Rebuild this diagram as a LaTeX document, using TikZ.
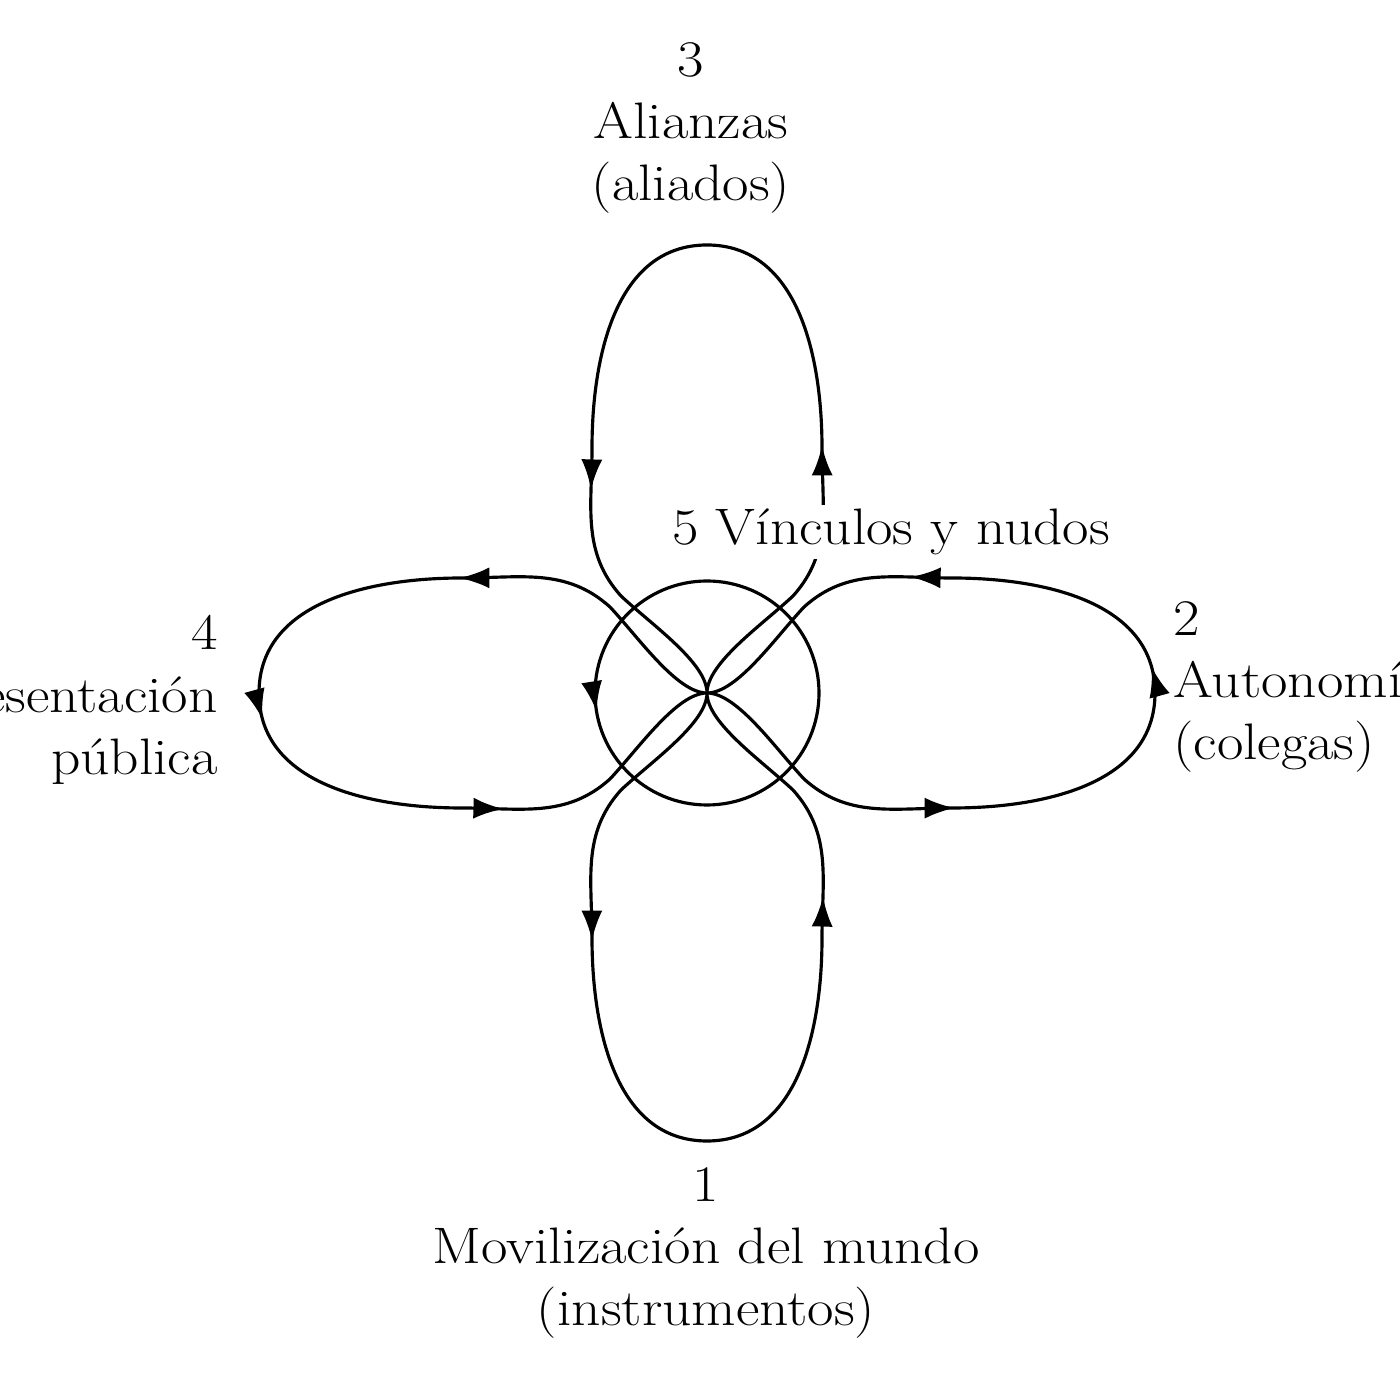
\documentclass[tikz,border=0pt]{standalone}
\usepackage{fontspec}
\setmainfont{Latin Modern Roman}[FakeStretch=1.12]
\usetikzlibrary{arrows.meta,decorations.markings}

\begin{document}
\begin{tikzpicture}[line cap=round,line join=round,x=1cm,y=1cm,
  every node/.style={font=\fontsize{14.6}{17.7}\selectfont},
  arrowat/.style={postaction={decorate,decoration={markings,
      mark=at position #1 with {\arrow{Latex[length=8.5pt,width=6pt]}}}}},
  petal/.style={line width=0.9pt,arrowat=0.265,arrowat=0.775},
  longpetal/.style={petal,arrowat=0.524}]
  \useasboundingbox (0,0) rectangle (14,14);
  \coordinate (c) at (7.07,7.07);
  % the four loops, all run counterclockwise
  \foreach \a/\s in {0/petal,90/longpetal,180/petal,270/longpetal}{
    \begin{scope}[shift={(c)},rotate=\a]
      \draw[\s] (0,0) .. controls (0,0.3) and (0.55,0.68) .. (0.86,0.97)
        to[out=48,in=-90] (1.15,2.45) to[out=90,in=0] (0,4.48)
        to[out=180,in=90] (-1.15,2.45) to[out=-90,in=132] (-0.86,0.97)
        .. controls (-0.55,0.68) and (0,0.3) .. (0,0);
    \end{scope}
  }
  \draw[line width=0.9pt,arrowat=0.526] (c) circle (1.12);
  \node[align=center] (alianzas) at (6.91,12.72) {3\\Alianzas\\(aliados)};
  \node[align=center] (movil) at (7.06,1.47) {1\\Movilización del mundo\\(instrumentos)};
  \node[align=left,anchor=west] (auton) at (11.61,7.13) {2\\Autonomía\\(colegas)};
  \node[align=right,anchor=east] (repr) at (2.30,7.00) {4\\Representación\\pública};
  \node[fill=white,inner sep=1pt] (nudos) at (8.91,8.68) {5 Vínculos y nudos};
\end{tikzpicture}
\end{document}
